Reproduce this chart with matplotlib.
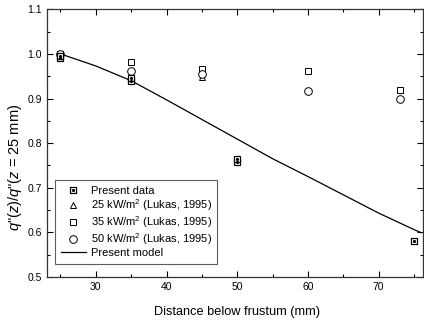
import matplotlib
matplotlib.use("Agg")
import matplotlib.pyplot as plt
from matplotlib.ticker import MultipleLocator

plt.rcParams['font.family'] = ['Liberation Sans', 'DejaVu Sans']
plt.rcParams['mathtext.fontset'] = 'custom'
plt.rcParams['mathtext.rm'] = 'Liberation Sans'
plt.rcParams['mathtext.it'] = 'Liberation Sans:italic'

# Present data
present_x = [25, 25, 35, 35, 50, 50, 75]
present_y = [0.990, 0.995, 0.940, 0.945, 0.757, 0.765, 0.580]
# Lukas 1995
l25_x = [25, 35, 45]
l25_y = [1.000, 0.950, 0.948]
l35_x = [25, 35, 45, 60, 73]
l35_y = [1.000, 0.981, 0.966, 0.962, 0.920]
l50_x = [25, 35, 45, 60, 73]
l50_y = [1.000, 0.962, 0.955, 0.917, 0.899]
# Present model
model_x = [25, 30, 35, 40, 45, 50, 55, 60, 65, 70, 75, 76]
model_y = [1.000, 0.973, 0.940, 0.897, 0.853, 0.809, 0.765, 0.725, 0.684, 0.643, 0.606, 0.599]

fig = plt.figure(figsize=(4.24, 3.23), dpi=100)
ax = fig.add_axes([0.111, 0.143, 0.887, 0.828])

ms = 5
ax.plot(model_x, model_y, '-', color='black', lw=0.9, zorder=2)
ax.plot(l25_x, l25_y, '^', mfc='white', mec='black', mew=0.7, ms=ms, ls='none', zorder=3)
ax.plot(l35_x, l35_y, 's', mfc='white', mec='black', mew=0.7, ms=ms, ls='none', zorder=3)
ax.plot(l50_x, l50_y, 'o', mfc='white', mec='black', mew=0.7, ms=ms + 0.5, ls='none', zorder=3)
ax.plot(present_x, present_y, 's', mfc='white', mec='black', mew=0.9, ms=ms, ls='none', zorder=4)
ax.plot(present_x, present_y, '.', color='black', ms=2.5, ls='none', zorder=5)

# legend proxies
h_p1, = ax.plot([], [], 's', mfc='white', mec='black', mew=0.9, ms=ms)
h_p2, = ax.plot([], [], '.', color='black', ms=2.5)
h_25, = ax.plot([], [], '^', mfc='white', mec='black', mew=0.7, ms=ms)
h_35, = ax.plot([], [], 's', mfc='white', mec='black', mew=0.7, ms=ms)
h_50, = ax.plot([], [], 'o', mfc='white', mec='black', mew=0.7, ms=ms + 0.5)
h_m, = ax.plot([], [], '-', color='black', lw=0.9)
leg = ax.legend([(h_p1, h_p2), h_25, h_35, h_50, h_m],
                ['Present data', '25 kW/m$^2$ (Lukas, 1995)', '35 kW/m$^2$ (Lukas, 1995)',
                 '50 kW/m$^2$ (Lukas, 1995)', 'Present model'],
                loc='lower left', bbox_to_anchor=(0.021, 0.047, 0.431, 0.3),
                mode='expand', fontsize=8,
                frameon=True, fancybox=False, edgecolor='#333333', handlelength=2.2,
                borderpad=0.55, labelspacing=0.1, handletextpad=0.5, borderaxespad=0)
leg.get_frame().set_linewidth(0.8)

ax.set_xlim(23.1, 76.3)
ax.set_ylim(0.5, 1.1)
ax.xaxis.set_major_locator(MultipleLocator(10))
ax.xaxis.set_minor_locator(MultipleLocator(5))
ax.yaxis.set_major_locator(MultipleLocator(0.1))
ax.yaxis.set_minor_locator(MultipleLocator(0.05))
ax.yaxis.set_major_formatter(plt.FormatStrFormatter('%.1f'))
ax.tick_params(which='both', direction='in', top=True, right=True, labelsize=7.5, width=0.8)
ax.tick_params(which='major', length=4)
ax.tick_params(which='minor', length=2)
for s in ax.spines.values():
    s.set_linewidth(0.9)
    s.set_color('#333333')

ax.set_xlabel('Distance below frustum (mm)', fontsize=9.2)
ax.xaxis.label.set_va('center')
ax.xaxis.set_label_coords(0.505, -0.131)
ax.set_ylabel(r'$q$"($z$)/$q$"($z$ = 25 mm)', fontsize=10.5)
ax.yaxis.label.set_va('center')
ax.yaxis.set_label_coords(-0.086, 0.41)

fig.savefig('out.png', dpi=100)
